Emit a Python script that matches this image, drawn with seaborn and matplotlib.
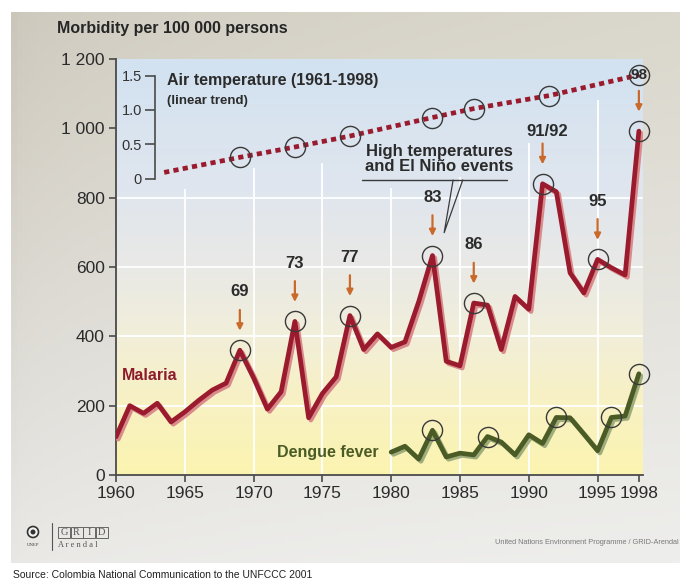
import numpy as np
import pandas as pd
import seaborn as sns
import matplotlib.pyplot as plt
import matplotlib.patheffects as pe
from matplotlib.colors import LinearSegmentedColormap
from matplotlib.patches import Ellipse, Rectangle
from matplotlib.lines import Line2D

# morbidity per 100 000 persons
years = list(range(1960, 1999))
malaria = [110, 200, 178, 207, 153, 182, 215, 245, 265, 360,
           280, 190, 240, 443, 165, 235, 283, 460, 362, 407,
           368, 384, 500, 633, 328, 315, 496, 490, 362, 515,
           478, 840, 817, 583, 525, 622, 598, 577, 992]
dengue_years = list(range(1980, 1999))
dengue = [66, 83, 46, 129, 52, 63, 58, 111, 95, 58,
          116, 91, 166, 165, 118, 70, 166, 170, 292]

# air temperature, linear trend (inset scale 0-1.5)
temp_years = [1963.5, 1969, 1973, 1977, 1983, 1986, 1991.5, 1998]
temp_trend = [0.09, 0.31, 0.46, 0.62, 0.89, 1.02, 1.21, 1.51]

event_years = [1969, 1973, 1977, 1983, 1986, 1991, 1995, 1998]
event_labels = ['69', '73', '77', '83', '86', '91/92', '95', '98']
dengue_circle_years = [1983, 1987, 1992, 1996, 1998]

x_ticks = [1960, 1965, 1970, 1975, 1980, 1985, 1990, 1995, 1998]
y_ticks = [0, 200, 400, 600, 800, 1000, 1200]

sns.set_theme(style='white')
plt.rcParams['font.family'] = ['Liberation Sans', 'DejaVu Sans']

DARK = '#2b2b2b'
RED = '#9b1b2e'
GREEN = '#4b5b26'
ORANGE = '#c96a2b'
CIRC = '#3a3a3a'

fig = plt.figure(figsize=(6.8, 5.8), dpi=100, facecolor='white')

# poster background
bg = fig.add_axes([0, 0, 1, 1])
bg.set_zorder(-2)
bg.set_axis_off()
H, W = 120, 120
v = np.linspace(0, 1, H)[:, None, None]
h = (np.linspace(0, 1, W) ** 0.4)[None, :, None]
top_l, top_r = np.array([203, 198, 186]), np.array([218, 215, 204])
bot_l, bot_r = np.array([232, 231, 228]), np.array([238, 238, 236])
poster = ((1 - v) * ((1 - h) * top_l + h * top_r) + v * ((1 - h) * bot_l + h * bot_r)) / 255
bg.imshow(poster, extent=[11 / 680, 1, 1 - 563 / 580, 1 - 12 / 580], aspect='auto')
bg.set_xlim(0, 1)
bg.set_ylim(0, 1)

ax = fig.add_axes([116 / 680, 1 - 475 / 580, 527 / 680, 416 / 580])
ax.set_facecolor('none')
x0, x1 = 1960, 1998.3
ax.set_xlim(x0, x1)
ax.set_ylim(0, 1200)

grad = LinearSegmentedColormap.from_list('plot_bg', [
    (0.0, '#fbf4b0'), (0.18, '#f8f1c4'), (0.35, '#f1eedb'),
    (0.5, '#e9e9e6'), (0.68, '#e0e6ee'), (1.0, '#d2e2f1')])
ax.imshow(np.linspace(0, 1, 256)[::-1, None], cmap=grad, extent=[x0, x1, 0, 1200],
          aspect='auto', zorder=0)

# white grid
for gy in [200, 400, 600, 800]:
    ax.axhline(gy, color='white', lw=1.3, zorder=1)
grid_x = [1965, 1970, 1975, 1980, 1985, 1990, 1995]
grid_top = [825, 886, 900, 828, 860, 958, 1082]
ax.vlines(grid_x, 0, grid_top, color='white', lw=1.3, zorder=1)

df_m = pd.DataFrame({'year': years, 'value': malaria})
df_d = pd.DataFrame({'year': dengue_years, 'value': dengue})

sns.lineplot(data=df_m, x='year', y='value', ax=ax, color=RED, lw=3.4, zorder=4,
             path_effects=[pe.SimpleLineShadow(offset=(1.6, -1.6), shadow_color='#d98a8a', alpha=1),
                           pe.Normal()])
sns.lineplot(data=df_d, x='year', y='value', ax=ax, color=GREEN, lw=3.4, zorder=4,
             path_effects=[pe.SimpleLineShadow(offset=(1.6, -1.6), shadow_color='#9fac7c', alpha=1),
                           pe.Normal()])

mal_ev = [malaria[years.index(y)] for y in event_years]
den_ev = [dengue[dengue_years.index(y)] for y in dengue_circle_years]
circ = dict(marker='o', ms=14.5, mfc='none', mec=CIRC, mew=1.0, ls='none', zorder=5, clip_on=False)
ax.plot(event_years, mal_ev, **circ)
ax.plot(dengue_circle_years, den_ev, **circ)

for yr, val, lab in zip(event_years, mal_ev, event_labels):
    ax.annotate('', xy=(yr, val), xytext=(0, 29), textcoords='offset points',
                arrowprops=dict(arrowstyle='-|>', color=ORANGE, lw=1.6, mutation_scale=9,
                                shrinkA=0, shrinkB=14), zorder=6)
    if lab == '98':
        continue
    dx = 3 if lab == '91/92' else 0
    dy = 38 if lab == '91/92' else 42
    ax.annotate(lab, xy=(yr, val), xytext=(dx, dy), textcoords='offset points',
                ha='center', va='center', fontsize=12, fontweight='bold', color=DARK)

# temperature inset
axt = ax.inset_axes([1962.8, 855, x1 - 1962.8, 297], transform=ax.transData)
axt.patch.set_alpha(0)
axt.set_xlim(1962.8, x1)
axt.set_ylim(0, 1.5)
for s in ['top', 'right', 'bottom']:
    axt.spines[s].set_visible(False)
axt.spines['left'].set_color('#4a4a4a')
axt.spines['left'].set_linewidth(1.2)
axt.set_xticks([])
axt.set_yticks([0, 0.5, 1.0, 1.5], ['0', '0.5', '1.0', '1.5'])
axt.tick_params(axis='y', direction='out', length=7, width=1.2, color='#4a4a4a',
                labelsize=10.5, labelcolor='#333333', pad=2, left=True)
axt.plot(temp_years, temp_trend, color=RED, lw=3.4, ls=(0, (1.1, 0.9)),
         dash_capstyle='butt', clip_on=False, zorder=3)
axt.plot(temp_years[1:], temp_trend[1:], **circ)
axt.text(temp_years[-1], temp_trend[-1], '98', ha='center', va='center',
         fontsize=11, fontweight='bold', color=DARK, zorder=6)

ax.text(1963.7, 1138, 'Air temperature (1961-1998)', ha='left', va='center',
        fontsize=11.5, fontweight='bold', color=DARK)
ax.text(1963.7, 1080, '(linear trend)', ha='left', va='center',
        fontsize=9.5, fontweight='bold', color=DARK)

ax.text(1983.5, 912, 'High temperatures\nand El Niño events', ha='center', va='center',
        fontsize=12, fontweight='bold', color=DARK, linespacing=1.0)
ax.plot([1977.9, 1988.4], [851, 851], color=CIRC, lw=1.0, zorder=3)
ax.plot([1984.5, 1983.85, 1985.2], [851, 699, 851], color=CIRC, lw=0.9, zorder=3)

ax.text(1960.45, 288, 'Malaria', ha='left', va='center', fontsize=11.5,
        fontweight='bold', color='#8e1b2b')
ax.text(1971.7, 64, 'Dengue fever', ha='left', va='center', fontsize=11.5,
        fontweight='bold', color=GREEN)

# axes styling
for s in ['top', 'right']:
    ax.spines[s].set_visible(False)
for s in ['left', 'bottom']:
    ax.spines[s].set_color('#4a4a4a')
    ax.spines[s].set_linewidth(1.3)
ax.set_xticks(x_ticks)
ax.set_yticks(y_ticks, [f'{v:,}'.replace(',', ' ') for v in y_ticks])
ax.tick_params(direction='out', length=5, width=1.2, color='#4a4a4a',
               labelsize=12.5, labelcolor=DARK, pad=3, left=True, bottom=True)
ax.set_xlabel('')
ax.set_ylabel('')
ax.grid(False)

fig.text(57 / 680, 1 - 29 / 580, 'Morbidity per 100 000 persons', ha='left', va='center',
         fontsize=11.5, fontweight='bold', color='#262626')

# footer: logos and credits
fig.patches.append(Ellipse((33 / 680, 1 - 532 / 580), 11 / 680, 11 / 580, transform=fig.transFigure,
                           fc='#f2f2f2', ec='#333333', lw=1.2))
fig.patches.append(Ellipse((33 / 680, 1 - 532 / 580), 5 / 680, 5 / 580, transform=fig.transFigure,
                           fc='#333333', ec='none'))
fig.text(33 / 680, 1 - 545 / 580, 'UNEP', ha='center', va='center', fontsize=3.5,
         color='#444444', family='Liberation Serif')
fig.lines.append(Line2D([52 / 680, 52 / 680], [1 - 523 / 580, 1 - 550 / 580],
                        transform=fig.transFigure, color='#555555', lw=0.8))
for i, ch in enumerate('GRID'):
    cx = 64 + 12.5 * i
    fig.patches.append(Rectangle(((cx - 6) / 680, 1 - 538 / 580), 12 / 680, 11 / 580,
                                 transform=fig.transFigure, fc='none', ec='#666666', lw=0.7))
    fig.text(cx / 680, 1 - 532.5 / 580, ch, ha='center', va='center', fontsize=7.5,
             color='#555555', family='Liberation Serif')
fig.text(58 / 680, 1 - 545 / 580, 'A r e n d a l', ha='left', va='center', fontsize=6,
         color='#555555', family='Liberation Serif')
fig.text(679 / 680, 1 - 543 / 580, 'United Nations Environment Programme / GRID-Arendal',
         ha='right', va='center', fontsize=5.3, color='#7a7a7a')
fig.text(13 / 680, 1 - 575 / 580, 'Source: Colombia National Communication to the UNFCCC 2001',
         ha='left', va='center', fontsize=7.5, color='#222222')

fig.savefig('out.png', dpi=100, facecolor='white')
